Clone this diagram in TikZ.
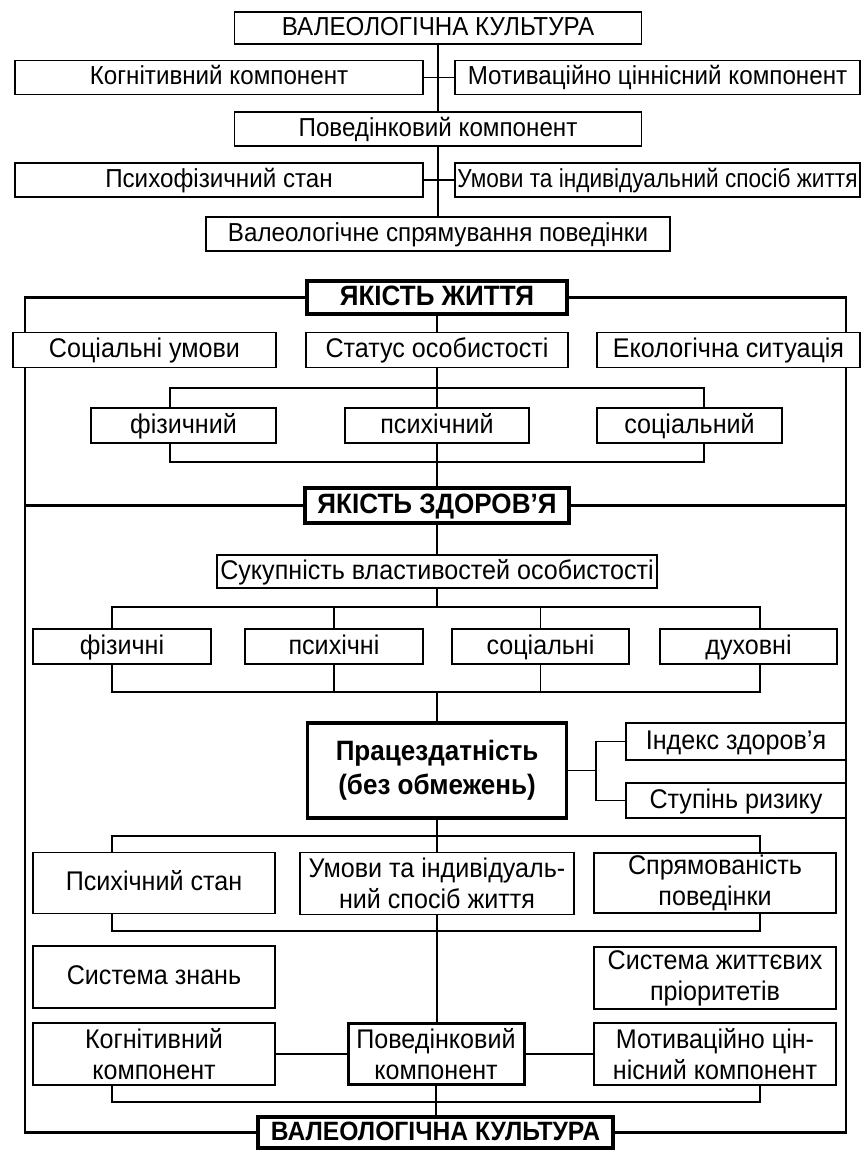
\documentclass[tikz,border=0pt]{standalone}
\usepackage{fontspec}
\setmainfont{Liberation Sans}[FakeStretch=0.93]
\newfontfamily\narrowfont{Liberation Sans}[FakeStretch=0.87]
\newcommand\fsA{\fontsize{26}{31}\selectfont}
\newcommand\fsB{\fontsize{27}{31}\selectfont}
\newcommand\fsC{\fontsize{28}{34}\selectfont\bfseries}
\newcommand\fsD{\fontsize{26.5}{31}\selectfont\bfseries}
\pgfdeclarelayer{bg}
\pgfsetlayers{bg,main}
\begin{document}
\begin{tikzpicture}[x=1pt,y=-1pt,
  bx/.style={draw, line width=1.9pt, fill=white, inner sep=0pt, align=center, font=\fsB},
  one/.style={text height=20pt, text depth=5pt},
  bxtop/.style={bx, one, font=\fsA},
  bxthick/.style={bx, line width=3.4pt, font=\fsC},
  ln/.style={line width=1.7pt},
  frame/.style={line width=2.7pt}]
\useasboundingbox (0,0) rectangle (861,1150);
% ---------- top section ----------
\node[bxtop, minimum width=407, minimum height=32] (t1) at (438,28) {ВАЛЕОЛОГІЧНА КУЛЬТУРА};
\node[bxtop, minimum width=408, minimum height=34] (kog1) at (219,77.5) {Когнітивний компонент};
\node[bxtop, minimum width=405, minimum height=34] (mot1) at (657.5,77.5) {Мотиваційно ціннісний компонент};
\node[bxtop, minimum width=407, minimum height=34] (pov1) at (438,129) {Поведінковий компонент};
\node[bxtop, minimum width=408, minimum height=34] (psy1) at (219,180) {Психофізичний стан};
\node[bxtop, minimum width=405, minimum height=34] (umo1) at (657.5,180) {\narrowfont Умови та індивідуальний спосіб життя};
\node[bxtop, minimum width=464, minimum height=34] (val1) at (438,234) {Валеологічне спрямування поведінки};
% ---------- main section ----------
\coordinate (fL) at (25,0);
\coordinate (fR) at (846,0);
\node[bxthick, one, minimum width=260, minimum height=33] (zh) at (437,297.5) {ЯКІСТЬ ЖИТТЯ};
\node[bx, one, minimum width=263, minimum height=35] (soc) at (144.5,350) {Соціальні умови};
\node[bx, one, minimum width=262, minimum height=35] (stat) at (437,350) {Статус особистості};
\node[bx, one, minimum width=263, minimum height=35] (eco) at (728.5,350) {Екологічна ситуація};
\node[bx, one, minimum width=185, minimum height=35] (fiz) at (183.5,425.5) {фізичний};
\node[bx, one, minimum width=184, minimum height=35] (psyh) at (437,425.5) {психічний};
\node[bx, one, minimum width=185, minimum height=35] (socl) at (689.5,425.5) {соціальний};
\node[bxthick, one, minimum width=264, minimum height=35] (zd) at (437,505.5) {ЯКІСТЬ ЗДОРОВ’Я};
\node[bx, one, minimum width=440, minimum height=33] (suk) at (437,571.5) {Сукупність властивостей особистості};
\node[bx, one, minimum width=178, minimum height=35] (fizi) at (122,646.5) {фізичні};
\node[bx, one, minimum width=178, minimum height=35] (psyi) at (334,646.5) {психічні};
\node[bx, one, minimum width=177, minimum height=35] (soci) at (540.5,646.5) {соціальні};
\node[bx, one, minimum width=177, minimum height=35] (duh) at (748.5,646.5) {духовні};
\node[bxthick, minimum width=259, minimum height=95] (prac) at (437,770.5) {Працездатність\\(без обмежень)};
\node[bx, one, minimum width=220, minimum height=37] (ind) at (736,741.5) {Індекс здоров'я};
\node[bx, one, minimum width=220, minimum height=35] (stup) at (736,800.5) {Ступінь ризику};
\node[bx, one, minimum width=242, minimum height=61] (psst) at (154,883) {Психічний стан};
\node[bx, minimum width=274, minimum height=62] (umv) at (437,883.5) {Умови та індивідуаль-\\ний спосіб життя};
\node[bx, minimum width=242, minimum height=60] (spr) at (715,883) {Спрямованість\\поведінки};
\node[bx, one, minimum width=242, minimum height=62] (sz) at (154,977) {Система знань};
\node[bx, minimum width=242, minimum height=62] (szp) at (715,978) {Система життєвих\\пріоритетів};
\node[bx, minimum width=242, minimum height=62] (kog2) at (154,1054) {Когнітивний\\компонент};
\node[bx, line width=3pt, minimum width=176, minimum height=61] (povk) at (436,1054) {Поведінковий\\компонент};
\node[bx, minimum width=242, minimum height=62] (mot2) at (715,1054) {Мотиваційно цін-\\нісний компонент};
\node[bxthick, one, font=\fsD, minimum width=355, minimum height=31] (vk) at (435.5,1132.5) {ВАЛЕОЛОГІЧНА КУЛЬТУРА};
% bus coordinates
\coordinate (b1L) at (170,388);  \coordinate (b1R) at (704,388);
\coordinate (b2L) at (170,462);  \coordinate (b2R) at (704,462);
\coordinate (b3L) at (112,607);  \coordinate (b3R) at (760,607);
\coordinate (b4L) at (112,692);  \coordinate (b4R) at (760,692);
\coordinate (jr) at (596,771);
\coordinate (b5L) at (112,836);  \coordinate (b5R) at (760,836);
\coordinate (b6L) at (112,931);  \coordinate (b6R) at (760,931);
\coordinate (b7L) at (112,1102); \coordinate (b7R) at (760,1102);
\begin{pgfonlayer}{bg}
% top section
\draw[ln] (t1.south) -- (pov1.north);
\draw[ln] (pov1.south) -- (val1.north);
\draw[ln] (kog1.east) -- (mot1.west);
\draw[ln] (psy1.east) -- (umo1.west);
% frame
\draw[frame] (zh.west) -| (vk.west -| fL) -- (vk.west);
\draw[frame] (zh.east) -| (vk.east -| fR) -- (vk.east);
\draw[frame] (zd.west -| fL) -- (zd.west);
\draw[frame] (zd.east) -- (zd.east -| fR);
% quality of life
\draw[ln] (zh.south) -- (stat.north);
\draw[ln] (stat.south) -- (psyh.north);
\draw[ln] (b1L |- fiz.north) -- (b1L) -- (b1R) -- (b1R |- socl.north);
\draw[ln] (b2L |- fiz.south) -- (b2L) -- (b2R) -- (b2R |- socl.south);
\draw[ln] (psyh.south) -- (zd.north);
% quality of health
\draw[ln] (zd.south) -- (suk.north);
\draw[ln] (suk.south) -- (suk.south |- b3L);
\draw[ln] (b3L |- fizi.north) -- (b3L) -- (b3R) -- (b3R |- duh.north);
\draw[ln] (psyi.north) -- (psyi.north |- b3L);
\draw[ln] (soci.north) -- (soci.north |- b3L);
\draw[ln] (b4L |- fizi.south) -- (b4L) -- (b4R) -- (b4R |- duh.south);
\draw[ln] (psyi.south) -- (psyi.south |- b4L);
\draw[ln] (soci.south) -- (soci.south |- b4L);
\draw[ln] (prac.north |- b4L) -- (prac.north);
% right branch
\draw[ln] (prac.east) -- (jr |- prac.east);
\draw[ln] (ind.west) -- (ind.west -| jr) -- (stup.west -| jr) -- (stup.west);
% lower buses
\draw[ln] (prac.south) -- (umv.north);
\draw[ln] (b5L |- psst.north) -- (b5L) -- (b5R) -- (b5R |- spr.north);
\draw[ln] (b6L |- psst.south) -- (b6L) -- (b6R) -- (b6R |- spr.south);
\draw[ln] (umv.south) -- (umv.south |- povk.north);
\draw[ln] (kog2.east) -- (povk.west);
\draw[ln] (povk.east) -- (mot2.west);
\draw[ln] (b7L |- kog2.south) -- (b7L) -- (b7R) -- (b7R |- mot2.south);
\draw[ln] (povk.south) -- (povk.south |- vk.north);
\end{pgfonlayer}
\end{tikzpicture}
\end{document}
